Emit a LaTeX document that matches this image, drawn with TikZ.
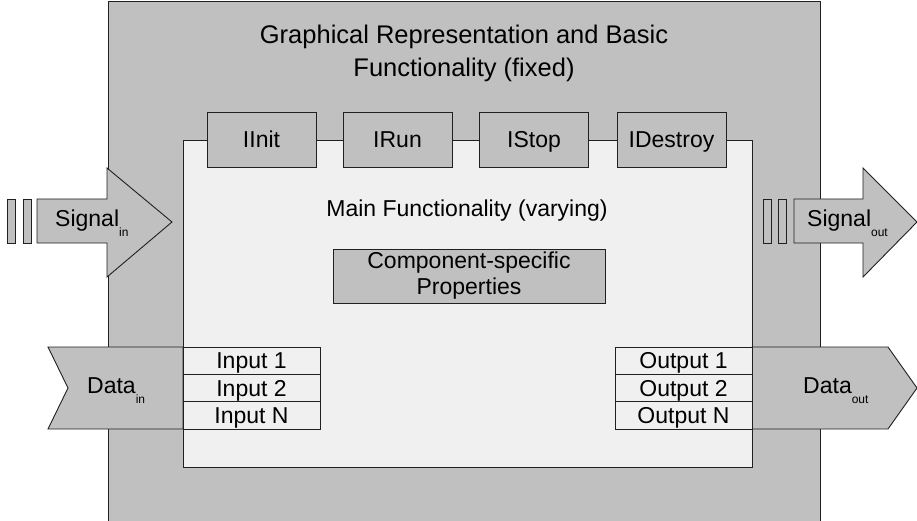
\documentclass[tikz,border=0pt]{standalone}
\usepackage{fontspec}
\setmainfont{Liberation Sans}
\definecolor{framegray}{HTML}{C0C0C0}
\definecolor{coregray}{HTML}{F0F0F0}
\definecolor{edgegray}{HTML}{202020}
\newcommand{\sublabel}[1]{\raisebox{-10pt}{\fontsize{12}{12}\selectfont #1}}
\begin{document}
\begin{tikzpicture}[x=1pt,y=-1pt,
  every node/.style={font=\fontsize{23}{26}\selectfont},
  outline/.style={draw=edgegray,line width=0.9pt},
  ifbox/.style={outline,fill=framegray,rectangle,minimum width=109pt,minimum height=55pt,inner sep=0pt,text height=16.5pt,text depth=0pt},
  portbox/.style={outline,fill=coregray,rectangle,minimum width=137pt,minimum height=27.33pt,inner sep=0pt,text height=16.5pt,text depth=0pt},
  propbox/.style={outline,fill=framegray,rectangle,minimum width=272pt,minimum height=54pt,inner sep=0pt,align=center},
  sublbl/.style={anchor=base west,inner sep=0pt}]
\useasboundingbox (0,0) rectangle (917,521);
% outer frame, open at the bottom
\fill[framegray] (108,1) rectangle (820,521);
\draw[outline] (108,521) -- (108,1) -- (820,1) -- (820,521);
\node[font=\fontsize{25.5}{33}\selectfont,align=center] (title) at (464,53.5) {Graphical Representation and Basic\\Functionality (fixed)};
% signal arrows
\foreach \x in {7,23,763,778}
  \draw[outline,fill=framegray] (\x,199) rectangle ++(8,44);
\draw[outline,fill=framegray] (37,199) -- (107,199) -- (107,168) -- (172,222) -- (107,277) -- (107,243) -- (37,243) -- cycle;
\draw[outline,fill=framegray] (794,199) -- (863,199) -- (863,168) -- (917,222) -- (863,277) -- (863,243) -- (794,243) -- cycle;
\node[sublbl] (sigin) at (55,226) {Signal\sublabel{in}};
\node[sublbl] (sigout) at (807,226) {Signal\sublabel{out}};
% main functionality
\draw[outline,fill=coregray] (183,140) rectangle (752,467);
\node (main) at (467,211) {Main Functionality (varying)};
\node[propbox] (props) at (469,276) {Component-specific\\Properties};
\foreach \name/\x in {IInit/261.5,IRun/397.5,IStop/534,IDestroy/671.5}
  \node[ifbox] (\name) at (\x,139.5) {\name};
% data ports
\draw[outline,fill=framegray] (48,347) -- (183,347) -- (183,429) -- (48,429) -- (68,388) -- cycle;
\draw[outline,fill=framegray] (752,347) -- (888,347) -- (917,388) -- (888,429) -- (752,429) -- cycle;
\node[sublbl] (datain) at (87,393) {Data\sublabel{in}};
\node[sublbl] (dataout) at (803,393) {Data\sublabel{out}};
\foreach \lbl [count=\i] in {1,2,N} {
  \node[portbox] (in\i) at (251.5,{333.33+27.33*\i}) {Input \lbl};
  \node[portbox] (out\i) at (683.5,{333.33+27.33*\i}) {Output \lbl};
}
\end{tikzpicture}
\end{document}
